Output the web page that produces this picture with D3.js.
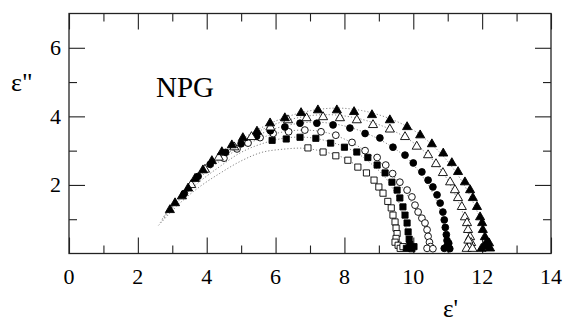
<html>
<head>
<meta charset="utf-8">
<script src="https://cdn.jsdelivr.net/npm/d3@7"></script>
</head>
<body style="margin:0">
<svg id="svg" width="564" height="321"></svg>
<script>
// tick values
var xMajor = [0, 2, 4, 6, 8, 10, 12, 14];
var xMinor = [1, 3, 5, 7, 9, 11, 13];
var yMajor = [2, 4, 6];
var yMinor = [1, 3, 5];

// measured points, each one [e1, e2]
var openSquares = [[6.94,3.08],[7.38,2.96],[7.75,2.85],[8.1,2.72],[8.39,2.52],[8.64,2.35],[8.86,2.14],[9.0,1.94],[9.12,1.76],[9.26,1.52],[9.36,1.33],[9.41,1.12],[9.47,0.92],[9.5,0.74],[9.53,0.58],[9.5,0.44],[9.47,0.33],[9.56,0.24],[9.62,0.15],[9.7,0.2]];
var filledSquares = [[5.9,3.3],[6.31,3.34],[6.71,3.39],[7.17,3.36],[7.6,3.22],[8.0,3.1],[8.36,2.96],[8.68,2.8],[8.95,2.58],[9.18,2.35],[9.38,2.08],[9.53,1.85],[9.61,1.62],[9.7,1.36],[9.76,1.12],[9.82,0.89],[9.85,0.63],[9.88,0.42],[9.9,0.26],[9.8,0.15],[9.96,0.14],[10.02,0.2]];
var openCircles = [[4.5,2.78],[4.88,3.05],[5.2,3.22],[5.55,3.38],[5.93,3.5],[6.38,3.55],[6.85,3.6],[7.32,3.55],[7.75,3.45],[8.22,3.24],[8.6,3.0],[8.95,2.8],[9.2,2.58],[9.4,2.33],[9.61,2.08],[9.82,1.85],[9.96,1.65],[10.05,1.41],[10.14,1.21],[10.25,1.03],[10.34,0.89],[10.4,0.69],[10.43,0.5],[10.47,0.33],[10.5,0.2],[10.4,0.15],[10.57,0.14]];
var filledCircles = [[3.35,1.75],[3.75,2.25],[4.1,2.6],[4.55,2.95],[5.0,3.2],[5.45,3.42],[5.85,3.58],[6.27,3.69],[6.71,3.8],[7.2,3.8],[7.67,3.75],[8.16,3.66],[8.6,3.5],[9.03,3.37],[9.41,3.1],[9.76,2.87],[10.0,2.64],[10.25,2.38],[10.43,2.14],[10.57,1.94],[10.69,1.71],[10.78,1.47],[10.86,1.21],[10.9,0.98],[10.93,0.76],[10.96,0.55],[10.98,0.38],[10.98,0.22],[10.9,0.15],[11.06,0.14],[11.03,0.3]];
var openTriangles = [[3.55,2.0],[3.95,2.45],[4.35,2.8],[4.8,3.1],[5.3,3.4],[5.85,3.68],[6.36,3.89],[6.9,3.95],[7.38,3.98],[7.87,3.95],[8.36,3.89],[8.83,3.75],[9.32,3.62],[9.76,3.4],[10.1,3.12],[10.43,2.87],[10.66,2.61],[10.86,2.35],[11.07,2.08],[11.21,1.85],[11.3,1.62],[11.41,1.36],[11.5,1.06],[11.56,0.89],[11.59,0.69],[11.65,0.48],[11.68,0.31],[11.62,0.2],[11.55,0.14],[11.72,0.14],[11.6,0.38]];
var filledTriangles = [[2.93,1.27],[3.08,1.47],[3.28,1.67],[3.46,1.9],[3.66,2.18],[3.89,2.43],[4.15,2.7],[4.44,2.96],[4.73,3.16],[5.05,3.37],[5.46,3.56],[5.84,3.8],[6.27,3.95],[6.74,4.1],[7.23,4.18],[7.78,4.18],[8.28,4.13],[8.8,4.04],[9.32,3.89],[9.82,3.69],[10.2,3.45],[10.54,3.19],[10.87,2.92],[11.12,2.64],[11.3,2.38],[11.5,2.08],[11.65,1.85],[11.73,1.62],[11.85,1.36],[11.94,1.06],[12.0,0.89],[12.02,0.69],[12.08,0.48],[12.14,0.34],[12.17,0.22],[12.23,0.15],[11.98,0.14],[12.06,0.2],[12.12,0.26],[12.2,0.3]];

// fitted curves (dotted)
var openSquaresFit = [[2.6,0.82],[3.2,1.45],[3.8,1.95],[4.4,2.35],[5.0,2.7],[5.6,2.95],[6.2,3.04],[6.8,3.07],[7.4,2.97],[8.0,2.78],[8.5,2.45],[8.9,2.1],[9.2,1.7],[9.4,1.2],[9.55,0.6],[9.65,0.12]];
var filledSquaresFit = [[2.65,0.9],[3.2,1.55],[3.8,2.1],[4.4,2.55],[5.0,2.95],[5.6,3.2],[6.3,3.37],[7.0,3.38],[7.7,3.22],[8.3,2.97],[8.8,2.6],[9.2,2.2],[9.5,1.7],[9.7,1.1],[9.85,0.5],[9.92,0.12]];
var openCirclesFit = [[2.7,1.0],[3.3,1.7],[3.9,2.3],[4.6,2.85],[5.3,3.25],[6.0,3.5],[6.8,3.6],[7.5,3.52],[8.2,3.24],[8.8,2.85],[9.3,2.4],[9.7,1.9],[10.0,1.4],[10.3,0.85],[10.45,0.4],[10.5,0.12]];
var filledCirclesFit = [[2.75,1.08],[3.3,1.78],[4.0,2.45],[4.8,3.05],[5.6,3.5],[6.4,3.75],[7.2,3.83],[8.0,3.72],[8.7,3.48],[9.4,3.1],[9.9,2.7],[10.3,2.2],[10.6,1.7],[10.8,1.2],[10.95,0.6],[11.02,0.12]];
var openTrianglesFit = [[2.8,1.15],[3.4,1.9],[4.1,2.6],[4.9,3.2],[5.8,3.7],[6.7,3.97],[7.5,4.05],[8.3,3.96],[9.1,3.72],[9.8,3.37],[10.4,2.9],[10.9,2.3],[11.2,1.75],[11.45,1.15],[11.6,0.55],[11.66,0.12]];
var filledTrianglesFit = [[2.85,1.22],[3.5,2.02],[4.2,2.72],[5.0,3.32],[5.9,3.82],[6.8,4.12],[7.7,4.24],[8.5,4.17],[9.3,3.94],[10.0,3.6],[10.6,3.12],[11.1,2.56],[11.5,1.96],[11.8,1.36],[12.05,0.7],[12.18,0.12]];

var serif = "'Liberation Serif', 'Times New Roman', Tinos, 'DejaVu Serif', serif";
var svg = d3.select("#svg");
var x = d3.scaleLinear().domain([0, 14]).range([69, 551]);
var y = d3.scaleLinear().domain([0, 7]).range([253.5, 13.5]);

// text labels first
var labels = [
    {x: 156, y: 97, size: 29, text: "NPG"},
    {x: 11, y: 91, size: 26, text: "ε\""},
    {x: 443, y: 317, size: 25, text: "ε'"}
];
svg.selectAll("text.lbl").data(labels).join("text")
    .attr("class", "lbl")
    .attr("x", d => d.x).attr("y", d => d.y)
    .attr("font-size", d => d.size)
    .attr("font-family", serif)
    .style("font-family", serif)
    .attr("fill", "#000")
    .text(d => d.text);

// tick labels drawn as plain text from the scales
svg.selectAll("text.xt").data(xMajor).join("text")
    .attr("class", "xt")
    .attr("x", d => x(d)).attr("y", 284)
    .attr("text-anchor", "middle")
    .attr("font-size", 22)
    .attr("font-family", serif)
    .style("font-family", serif)
    .text(d => d);
svg.selectAll("text.yt").data(yMajor).join("text")
    .attr("class", "yt")
    .attr("x", 61).attr("y", d => y(d) + 7.5)
    .attr("text-anchor", "end")
    .attr("font-size", 22)
    .attr("font-family", serif)
    .style("font-family", serif)
    .text(d => d);

// ticks, all pointing inwards
function ticks(gen, tx, ty, vals, len) {
    var g = svg.append("g").attr("transform", "translate(" + tx + "," + ty + ")")
        .call(gen.tickValues(vals).tickSizeInner(-len).tickSizeOuter(0).tickFormat(""));
    g.select(".domain").remove();
    g.selectAll(".tick line").attr("stroke", "#222").attr("stroke-width", 1.1);
}
ticks(d3.axisBottom(x), 0, 253.5, xMajor, 16);
ticks(d3.axisBottom(x), 0, 253.5, xMinor, 8);
ticks(d3.axisTop(x), 0, 13.5, xMajor, 16);
ticks(d3.axisTop(x), 0, 13.5, xMinor, 8);
ticks(d3.axisLeft(y), 69, 0, yMajor, 16);
ticks(d3.axisLeft(y), 69, 0, yMinor, 8);
ticks(d3.axisRight(y), 551, 0, yMajor, 16);
ticks(d3.axisRight(y), 551, 0, yMinor, 8);

svg.append("rect")
    .attr("x", x(0)).attr("y", y(7))
    .attr("width", x(14) - x(0)).attr("height", y(0) - y(7))
    .attr("fill", "none").attr("stroke", "#222").attr("stroke-width", 1.3);

// fit lines
var line = d3.line().x(d => x(d[0])).y(d => y(d[1])).curve(d3.curveCatmullRom);
[openSquaresFit, filledSquaresFit, openCirclesFit, filledCirclesFit, openTrianglesFit, filledTrianglesFit].forEach(function (f) {
    svg.append("path").attr("d", line(f))
        .attr("fill", "none").attr("stroke", "#777")
        .attr("stroke-width", 0.9).attr("stroke-dasharray", "1.2,2");
});

// markers
function draw(data, type, filled, size) {
    svg.append("g").selectAll("path").data(data).join("path")
        .attr("transform", d => "translate(" + x(d[0]) + "," + y(d[1]) + ")")
        .attr("d", d3.symbol().type(type).size(size))
        .attr("fill", filled ? "#000" : "#fff")
        .attr("stroke", "#000").attr("stroke-width", 0.9);
}
draw(openSquares, d3.symbolSquare, false, 38);
draw(filledSquares, d3.symbolSquare, true, 38);
draw(openCircles, d3.symbolCircle, false, 36);
draw(filledCircles, d3.symbolCircle, true, 36);
draw(openTriangles, d3.symbolTriangle, false, 36);
draw(filledTriangles, d3.symbolTriangle, true, 36);
</script>
</body>
</html>
